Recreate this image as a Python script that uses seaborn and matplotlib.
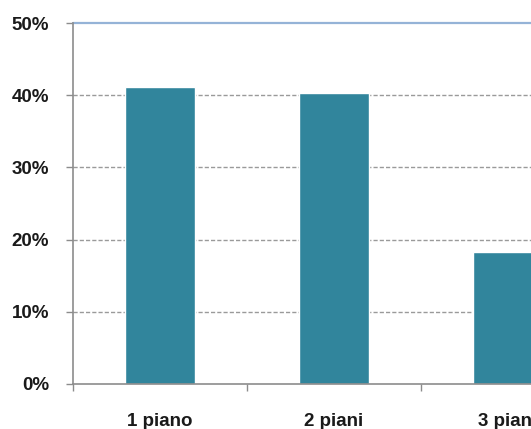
import matplotlib
matplotlib.use("Agg")
import matplotlib.pyplot as plt
import seaborn as sns
import pandas as pd
import numpy as np

categories = ["1 piano", "2 piani", "3 piani"]
values = [41.2, 40.3, 18.3]
yticks = [0, 10, 20, 30, 40, 50]
ytick_labels = ["0%", "10%", "20%", "30%", "40%", "50%"]

df = pd.DataFrame({"cat": categories, "val": values})

sns.set_style("white")
plt.rcParams['font.family'] = ['Liberation Sans', 'DejaVu Sans']

W, H = 531, 429
fig = plt.figure(figsize=(W / 100, H / 100), dpi=100)
left = 72.7 / W
right = (72.7 + 3 * 174) / W
bottom = (H - 384) / H
top = (H - 23) / H
ax = fig.add_axes([left, bottom, right - left, top - bottom])

sns.barplot(data=df, x="cat", y="val", order=categories, color="#31859C",
            saturation=1, width=0.4, ax=ax, zorder=3)

ax.set_xlim(-0.5, 2.5)
ax.set_ylim(0, 50)
ax.set_xlabel("")
ax.set_ylabel("")

ax.set_yticks(yticks)
ax.set_yticklabels(ytick_labels)
for y in yticks[1:-1]:
    ax.axhline(y, color="#9a9a9a", lw=1, ls=(0, (3, 1.5)), zorder=1)
ax.axhline(50, color="#95B3D7", lw=1.6, zorder=2, clip_on=False)

ax.set_xticks(range(len(categories)))
ax.set_xticklabels(categories)
ax.set_xticks([-0.5, 0.5, 1.5, 2.5], minor=True)
ax.tick_params(axis="x", which="major", length=0, pad=21, labelsize=13.5)
ax.tick_params(axis="x", which="minor", length=5, width=1, color="#8c8c8c", direction="out", bottom=True)
ax.tick_params(axis="y", length=5, width=1, color="#8c8c8c", direction="out", left=True, pad=12, labelsize=13.5)
for lab in ax.get_xticklabels() + ax.get_yticklabels():
    lab.set_fontweight("bold")
    lab.set_color("#1a1a1a")

for s in ["top", "right"]:
    ax.spines[s].set_visible(False)
for s in ["left", "bottom"]:
    ax.spines[s].set_color("#8c8c8c")
    ax.spines[s].set_linewidth(1.2)
    ax.spines[s].set_zorder(4)

fig.savefig("out.png", dpi=100)
